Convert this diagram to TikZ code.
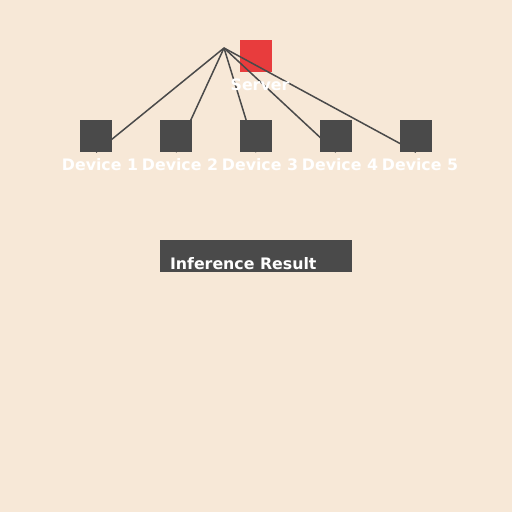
\documentclass[tikz,border=0pt]{standalone}
\usepackage{fontspec}
\newfontfamily\labelfont{DejaVu Sans}
\usepackage{tikz}
\usetikzlibrary{positioning, calc, backgrounds}
\definecolor{paper}{HTML}{F7E8D7}
\definecolor{darkbox}{HTML}{4A4A4A}
\definecolor{serverred}{HTML}{E83C3D}
\tikzstyle{DEVICE} = [fill=darkbox,       % dark square
                      draw=none,
                      rectangle,          % Box shape
                      inner sep=0pt,
                      minimum width=32bp, minimum height=32bp]
\tikzstyle{SERVER} = [DEVICE, fill=serverred]
\tikzstyle{RESULT} = [DEVICE, minimum width=192bp]
\tikzstyle{LABEL}  = [text=white, inner sep=0pt, anchor=base,
                      font=\labelfont\bfseries\fontsize{15.8bp}{18bp}\selectfont]
\tikzstyle{LINK}   = [draw=darkbox, line width=1.5bp]

\begin{document}
\begin{tikzpicture}[x=1bp, y=-1bp, node distance=80bp]

		% Page and server
		\begin{pgfonlayer}{background}
			\fill[paper] (0,0) rectangle (512,512);
			\node(server)[SERVER] at (256,56) {};
		\end{pgfonlayer}
		\useasboundingbox (0,0) rectangle (512,512);
		\coordinate (hub) at (224,48);
		\node(serverlbl)[LABEL] at ($(server.south)+(4,18)$) {Server};


		% The devices
		\node(dev1)[DEVICE] at (96,136) {};
		\node(dev2)[DEVICE, right of = dev1] {};
		\node(dev3)[DEVICE, right of = dev2] {};
		\node(dev4)[DEVICE, right of = dev3] {};
		\node(dev5)[DEVICE, right of = dev4] {};

		\foreach \i in {1,...,5}
		{
			\node(devlbl\i)[LABEL] at ($(dev\i.south)+(4,18)$) {Device \i};
		}


		% Result box
		\node(result)[RESULT] at (256,256) {};
		\node(resultlbl)[LABEL, anchor=base west] at ($(result.south west)+(10,-2.7)$) {Inference Result};


		% Links from server to devices
		\begin{pgfonlayer}{background}
			\foreach \i in {1,...,5}
			{
				\draw[LINK] (hub) -- (dev\i.south);
			}
		\end{pgfonlayer}

\end{tikzpicture}
\end{document}
